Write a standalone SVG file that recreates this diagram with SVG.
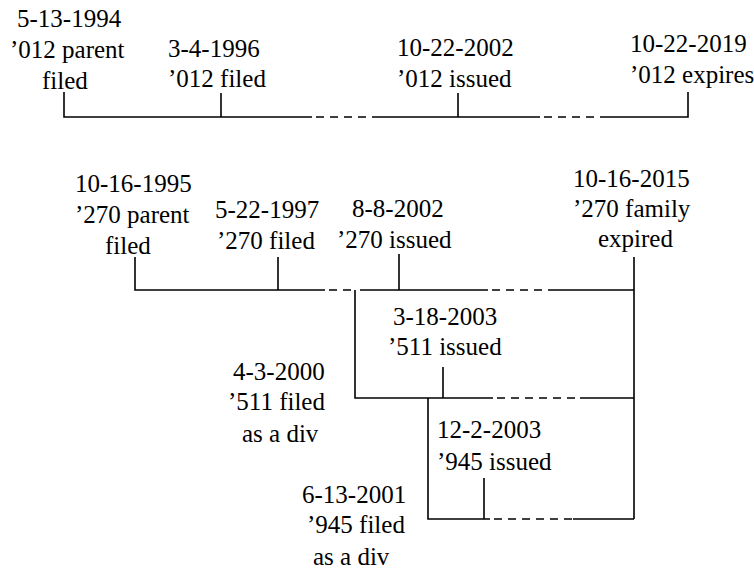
<svg xmlns="http://www.w3.org/2000/svg" width="754" height="569" viewBox="0 0 754 569">
<rect width="754" height="569" fill="#fff"/>
<g id="connectors" stroke="#000" stroke-width="1.6" fill="none">
<path d="M64 92V117H312M373 117H540M600 117H688V92M221 93V117M458 93V117"/>
<path stroke-dasharray="8 6" d="M316 117H373M544 117H600"/>
<path d="M135 257V290H325M278 257V290M360 290H488M548 290H634M399 254V290M634 257V519M355 290V398H493M580 398H634M443 367V398M428 398V519H490M573 519H634M484 478V519"/>
<path stroke-dasharray="8 6" d="M329 290H355M492 290H548M497 398H580M494 519H573"/>
</g>
<g id="n1"><text font-family="Liberation Serif" font-size="25" x="17" y="27">5-13-1994</text><text font-family="Liberation Serif" font-size="25" x="10" y="58">’012 parent</text><text font-family="Liberation Serif" font-size="25" x="42" y="89">filed</text></g>
<g id="n2"><text font-family="Liberation Serif" font-size="25" x="168" y="57">3-4-1996</text><text font-family="Liberation Serif" font-size="25" x="168" y="87">’012 filed</text></g>
<g id="n3"><text font-family="Liberation Serif" font-size="25" x="397" y="56">10-22-2002</text><text font-family="Liberation Serif" font-size="25" x="397" y="87">’012 issued</text></g>
<g id="n4"><text font-family="Liberation Serif" font-size="25" x="630" y="52">10-22-2019</text><text font-family="Liberation Serif" font-size="25" x="630" y="83">’012 expires</text></g>
<g id="n5"><text font-family="Liberation Serif" font-size="25" x="75" y="192">10-16-1995</text><text font-family="Liberation Serif" font-size="25" x="75" y="223">’270 parent</text><text font-family="Liberation Serif" font-size="25" x="105" y="254">filed</text></g>
<g id="n6"><text font-family="Liberation Serif" font-size="25" x="215" y="218">5-22-1997</text><text font-family="Liberation Serif" font-size="25" x="217" y="249">’270 filed</text></g>
<g id="n7"><text font-family="Liberation Serif" font-size="25" x="352" y="217">8-8-2002</text><text font-family="Liberation Serif" font-size="25" x="337" y="248">’270 issued</text></g>
<g id="n8"><text font-family="Liberation Serif" font-size="25" x="573" y="187">10-16-2015</text><text font-family="Liberation Serif" font-size="25" x="573" y="217">’270 family</text><text font-family="Liberation Serif" font-size="25" x="598" y="247">expired</text></g>
<g id="n9"><text font-family="Liberation Serif" font-size="25" x="393" y="325">3-18-2003</text><text font-family="Liberation Serif" font-size="25" x="388" y="355">’511 issued</text></g>
<g id="n10"><text font-family="Liberation Serif" font-size="25" x="233" y="380">4-3-2000</text><text font-family="Liberation Serif" font-size="25" x="228" y="410">’511 filed</text><text font-family="Liberation Serif" font-size="25" x="242" y="442">as a div</text></g>
<g id="n11"><text font-family="Liberation Serif" font-size="25" x="437" y="438">12-2-2003</text><text font-family="Liberation Serif" font-size="25" x="437" y="470">’945 issued</text></g>
<g id="n12"><text font-family="Liberation Serif" font-size="25" x="302" y="503">6-13-2001</text><text font-family="Liberation Serif" font-size="25" x="307" y="533">’945 filed</text><text font-family="Liberation Serif" font-size="25" x="313" y="565">as a div</text></g>
</svg>
